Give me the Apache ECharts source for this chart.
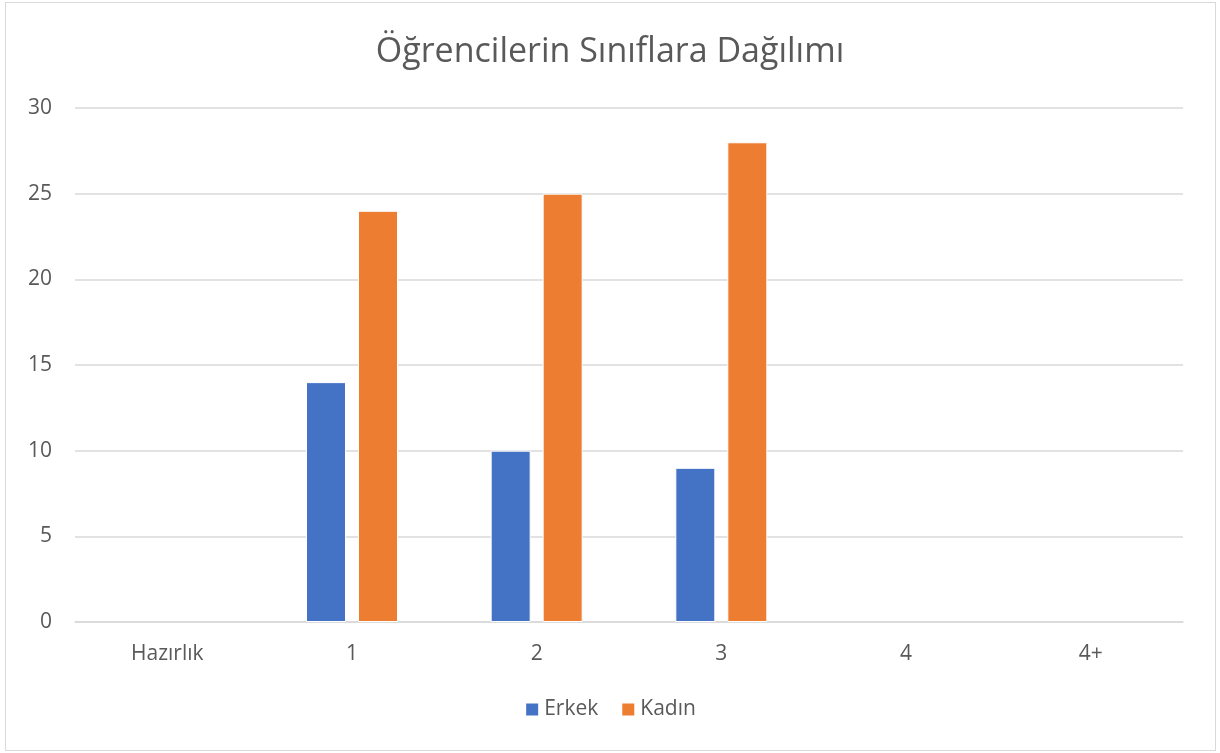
<!DOCTYPE html>
<html>
<head>
<meta charset="utf-8">
<script src="https://cdn.jsdelivr.net/npm/echarts@6/dist/echarts.min.js"></script>
<style>
  html, body { margin: 0; padding: 0; background: #fff; }
  #chart { width: 1220px; height: 753px; }
  #frame { position: absolute; left: 5px; top: 2px; width: 1209px; height: 747px; border: 1.5px solid #d9d9d9; pointer-events: none; }
</style>
</head>
<body>
<div id="chart"></div>
<div id="frame"></div>
<script>
const categories = ['Hazırlık', '1', '2', '3', '4', '4+']
const erkek = [null, 14, 10, 9, null, null]
const kadin = [null, 24, 25, 28, null, null]
const yTicks = { min: 0, max: 30, interval: 5 }

let chart = echarts.init(document.getElementById('chart'))
const font = '"Open Sans", "Noto Sans", sans-serif'
let option = {
  animation: false,
  title: {
    text: 'Öğrencilerin Sınıflara Dağılımı',
    left: 'center',
    top: 30,
    textStyle: { fontFamily: font, fontSize: 34, fontWeight: 'normal', color: '#595959' }
  },
  legend: {
    data: ['Erkek', 'Kadın'],
    bottom: 28,
    left: 'center',
    itemWidth: 14,
    itemHeight: 14,
    itemGap: 22,
    icon: 'rect',
    textStyle: { fontFamily: font, fontSize: 21, color: '#595959' }
  },
  grid: { left: 75, right: 37, top: 108, bottom: 131, containLabel: false },
  xAxis: {
    type: 'category',
    data: categories,
    axisTick: { show: false },
    axisLine: { lineStyle: { color: '#d9d9d9', width: 1.5 } },
    axisLabel: { fontFamily: font, fontSize: 21, color: '#595959', margin: 22 }
  },
  yAxis: {
    type: 'value',
    min: yTicks.min,
    max: yTicks.max,
    interval: yTicks.interval,
    axisLine: { show: false },
    axisTick: { show: false },
    axisLabel: { fontFamily: font, fontSize: 21, color: '#595959', margin: 23 },
    splitLine: { lineStyle: { color: '#d9d9d9', width: 1.5 } }
  },
  series: [
    {
      name: 'Erkek',
      type: 'bar',
      data: erkek,
      barWidth: 40,
      barGap: '30%',
      itemStyle: { color: '#4472c4', borderColor: '#fff', borderWidth: 1 }
    },
    {
      name: 'Kadın',
      type: 'bar',
      data: kadin,
      barWidth: 40,
      itemStyle: { color: '#ed7d31', borderColor: '#fff', borderWidth: 1 }
    }
  ]
}
chart.setOption(option)
</script>
</body>
</html>
